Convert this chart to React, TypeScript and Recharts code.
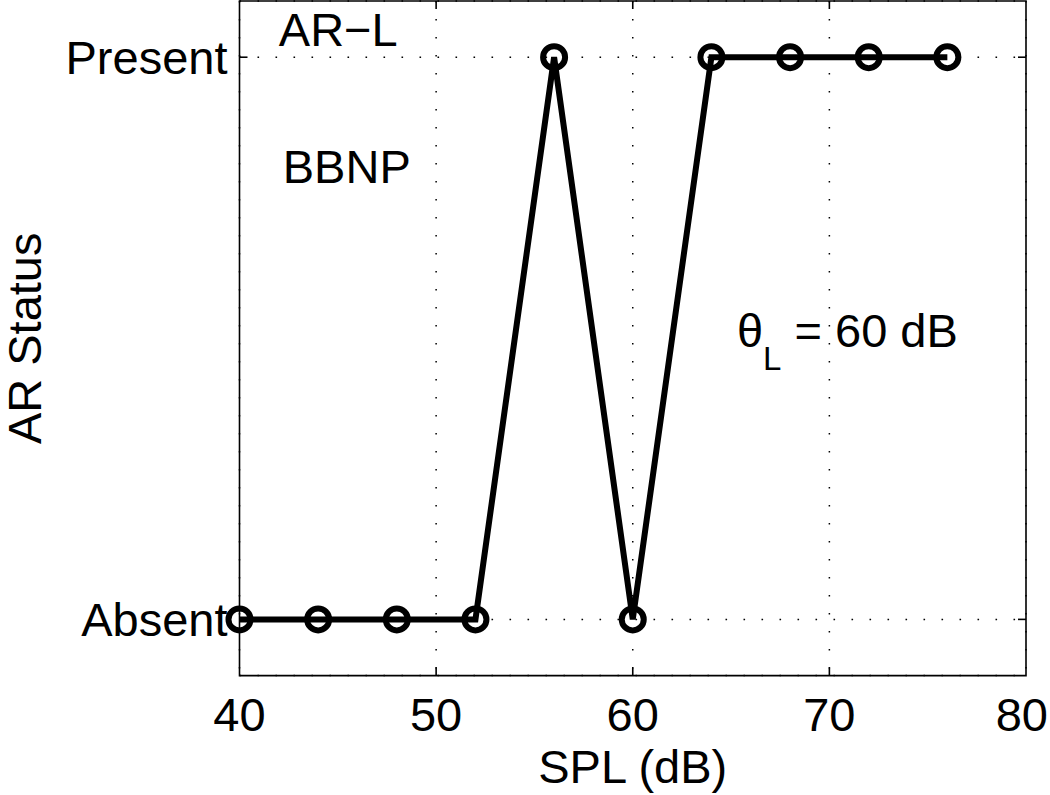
import React from "react";
import {
  LineChart,
  Line,
  XAxis,
  YAxis,
  CartesianGrid,
  ReferenceArea,
  ReferenceLine,
  ReferenceDot,
} from "recharts";

// ---- data ----
const spl = [40, 44, 48, 52, 56, 60, 64, 68, 72, 76];
const arStatus = [0, 0, 0, 0, 1, 0, 1, 1, 1, 1];
const xTicks = [40, 50, 60, 70, 80];
const yTicks = [0, 1];
const statusLabels = ["Absent", "Present"];
const xDomain = [40, 80];
const yDomain = [-0.1, 1.1];
const annotations = [
  { x: 42, y: 1.02, text: "AR\u2212L" },
  { x: 42.2, y: 0.776, text: "BBNP" },
];
const thetaNote = { x: 65.3, y: 0.484, sym: "\u03b8", sub: "L", rest: " = 60 dB" };

const data = spl.map((s, i) => ({ spl: s, status: arStatus[i] }));

// ---- layout ----
const W = 1050;
const H = 795;
const MARGIN = { top: 1, right: 24, bottom: 0, left: 0 };
const Y_AXIS_W = 239.5;
const X_AXIS_H = 119.4;
const FONT = "'Liberation Sans', Arial, Helvetica, sans-serif";
const FS = 47;

const plotW = W - MARGIN.left - MARGIN.right - Y_AXIS_W;
const plotH = H - MARGIN.top - MARGIN.bottom - X_AXIS_H;
const TICK_PX = 8;
const tickDY = (TICK_PX / plotH) * (yDomain[1] - yDomain[0]);
const tickDX = (TICK_PX / plotW) * (xDomain[1] - xDomain[0]);

const tickStyle = { fill: "#000", fontSize: FS, fontFamily: FONT };

// x tick label that stays inside the picture's right edge
const XTick = (props: any) => {
  const { x, y, payload } = props;
  const label = String(payload.value);
  const half = (label.length * 0.556 * FS) / 2;
  const cx = Math.min(x, W - 2 - half);
  return (
    <text x={cx} y={y} dy="0.71em" textAnchor="middle" fill="#000" fontSize={FS} fontFamily={FONT}>
      {label}
    </text>
  );
};

export default function App() {
  const innerX = xTicks.filter((t) => t > xDomain[0] && t < xDomain[1]);
  return (
    <div style={{ position: "absolute", left: 0, top: 0, width: W, height: H, background: "#fff" }}>
      <LineChart width={W} height={H} data={data} margin={MARGIN} style={{ fontFamily: FONT }}>
        <CartesianGrid stroke="#000" strokeWidth={1.5} strokeDasharray="1.6 16.4" />
        <XAxis
          dataKey="spl"
          type="number"
          domain={xDomain}
          ticks={xTicks}
          interval={0}
          height={X_AXIS_H}
          axisLine={false}
          tickLine={false}
          tickSize={0}
          tickMargin={22.4}
          tick={<XTick />}
          label={{
            value: "SPL (dB)",
            position: "insideBottom",
            offset: 12,
            style: { fill: "#000", fontSize: FS, fontFamily: FONT },
          }}
        />
        <YAxis
          type="number"
          domain={yDomain}
          ticks={yTicks}
          interval={0}
          width={Y_AXIS_W}
          axisLine={false}
          tickLine={false}
          tickSize={0}
          tickMargin={12}
          tick={tickStyle}
          tickFormatter={(v: number) => statusLabels[v] ?? ""}
          label={{
            value: "AR Status",
            angle: -90,
            position: "insideLeft",
            offset: 24,
            style: { fill: "#000", fontSize: FS, fontFamily: FONT, textAnchor: "middle" },
          }}
        />
        <ReferenceArea
          x1={xDomain[0]}
          x2={xDomain[1]}
          y1={yDomain[0]}
          y2={yDomain[1]}
          fill="none"
          fillOpacity={0}
          stroke="#000"
          strokeWidth={1.6}
          ifOverflow="visible"
        />
        {innerX.map((t) => (
          <ReferenceLine
            key={"xb" + t}
            segment={[{ x: t, y: yDomain[0] }, { x: t, y: yDomain[0] + tickDY }]}
            stroke="#000"
            strokeWidth={1.6}
            ifOverflow="visible"
          />
        ))}
        {innerX.map((t) => (
          <ReferenceLine
            key={"xt" + t}
            segment={[{ x: t, y: yDomain[1] }, { x: t, y: yDomain[1] - tickDY }]}
            stroke="#000"
            strokeWidth={1.6}
            ifOverflow="visible"
          />
        ))}
        {yTicks.map((t) => (
          <ReferenceLine
            key={"yl" + t}
            segment={[{ x: xDomain[0], y: t }, { x: xDomain[0] + tickDX, y: t }]}
            stroke="#000"
            strokeWidth={1.6}
            ifOverflow="visible"
          />
        ))}
        {yTicks.map((t) => (
          <ReferenceLine
            key={"yr" + t}
            segment={[{ x: xDomain[1], y: t }, { x: xDomain[1] - tickDX, y: t }]}
            stroke="#000"
            strokeWidth={1.6}
            ifOverflow="visible"
          />
        ))}
        {annotations.map((a) => (
          <ReferenceDot
            key={a.text}
            x={a.x}
            y={a.y}
            r={0}
            ifOverflow="visible"
            shape={(p: any) => (
              <text x={p.cx} y={p.cy} fill="#000" fontSize={FS} fontFamily={FONT} textAnchor="start">
                {a.text}
              </text>
            )}
          />
        ))}
        <ReferenceDot
          x={thetaNote.x}
          y={thetaNote.y}
          r={0}
          ifOverflow="visible"
          shape={(p: any) => (
            <text x={p.cx} y={p.cy} fill="#000" fontSize={FS} fontFamily={FONT} textAnchor="start">
              <tspan>{thetaNote.sym}</tspan>
              <tspan dy={23} fontSize={33}>{thetaNote.sub}</tspan>
              <tspan dy={-23}>{thetaNote.rest}</tspan>
            </text>
          )}
        />
        <Line
          type="linear"
          dataKey="status"
          stroke="#000"
          strokeWidth={6}
          fill="none"
          dot={{ r: 11, stroke: "#000", strokeWidth: 6, fill: "none" }}
          activeDot={false}
          isAnimationActive={false}
        />
      </LineChart>
    </div>
  );
}
